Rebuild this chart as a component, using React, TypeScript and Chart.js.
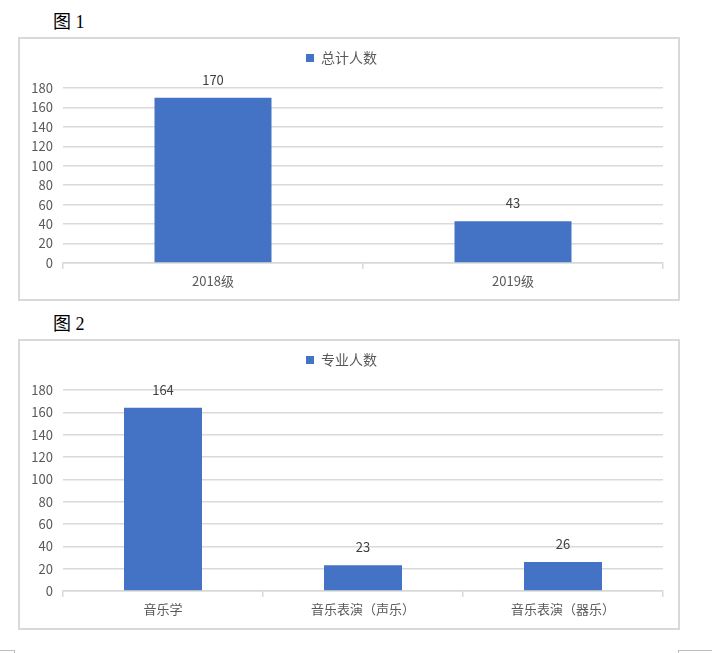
import { useEffect, useRef } from "react"
import Chart from "chart.js/auto"

// 图 1: 各年级总计人数
const gradeLabels = ["2018级", "2019级"]
const gradeCounts = [170, 43]
const gradeSeries = "总计人数"

// 图 2: 各专业人数
const majorLabels = ["音乐学", "音乐表演（声乐）", "音乐表演（器乐）"]
const majorCounts = [164, 23, 26]
const majorSeries = "专业人数"

const yMax = 180
const yStep = 20

const FONT = "'Noto Sans CJK SC', 'Noto Sans', sans-serif"
const BAR_BLUE = "#4472c4"
const GRID = "#d9d9d9"

// fixes the legend block height so the plot area lands where it should
const legendHeight = {
  id: "legendHeight",
  beforeInit(chart: any) {
    const legend = chart.legend
    if (!legend) return
    const fit = legend.fit
    legend.fit = function () {
      fit.call(this)
      this.height = 49
    }
  },
}

// value labels above each bar
const barValueLabels = {
  id: "barValueLabels",
  afterDatasetsDraw(chart: any) {
    const { ctx } = chart
    const meta = chart.getDatasetMeta(0)
    const values = chart.data.datasets[0].data
    ctx.save()
    ctx.font = `13px ${FONT}`
    ctx.fillStyle = "#404040"
    ctx.textAlign = "center"
    ctx.textBaseline = "middle"
    meta.data.forEach((bar: any, i: number) => {
      ctx.fillText(String(values[i]), bar.x, bar.y - 18)
    })
    ctx.restore()
  },
}

interface BarBoxProps {
  title: string
  top: number
  height: number
  labels: string[]
  values: number[]
  series: string
  xAxisHeight: number
}

function BarBox({ title, top, height, labels, values, series, xAxisHeight }: BarBoxProps) {
  const chartRef = useRef<HTMLCanvasElement>(null)
  const chartInstance = useRef<Chart | null>(null)

  useEffect(() => {
    if (!chartRef.current) return
    if (chartInstance.current) chartInstance.current.destroy()

    chartInstance.current = new Chart(chartRef.current, {
      type: "bar",
      data: {
        labels,
        datasets: [
          {
            label: series,
            data: values,
            backgroundColor: BAR_BLUE,
            borderWidth: 0,
            categoryPercentage: 1,
            barPercentage: 0.39,
          },
        ],
      },
      options: {
        animation: false,
        responsive: true,
        maintainAspectRatio: false,
        layout: { padding: { top: 0, right: 15, bottom: 0, left: 0 } },
        plugins: {
          tooltip: { enabled: false },
          legend: {
            position: "top",
            labels: {
              boxWidth: 8,
              boxHeight: 8,
              padding: 12,
              color: "#595959",
              font: { family: FONT, size: 14 },
            },
          },
        },
        scales: {
          x: {
            border: { color: GRID, width: 1.5 },
            grid: {
              offset: true,
              drawOnChartArea: false,
              drawTicks: true,
              tickLength: 6,
              color: GRID,
              lineWidth: 1.5,
            },
            ticks: {
              padding: 4,
              color: "#595959",
              font: { family: FONT, size: 13 },
              maxRotation: 0,
            },
            afterFit: (scale: any) => {
              scale.height = xAxisHeight
            },
          },
          y: {
            min: 0,
            max: yMax,
            border: { display: false },
            grid: { color: GRID, lineWidth: 1.5, drawTicks: false },
            ticks: {
              stepSize: yStep,
              padding: 10,
              color: "#595959",
              font: { family: FONT, size: 13 },
            },
            afterFit: (scale: any) => {
              scale.width = 43
            },
          },
        },
      },
      plugins: [legendHeight, barValueLabels],
    })

    return () => {
      if (chartInstance.current) {
        chartInstance.current.destroy()
        chartInstance.current = null
      }
    }
  }, [])

  return (
    <>
      <div
        style={{
          position: "absolute",
          left: 53,
          top: top - 24,
          fontFamily: "'Liberation Serif', 'Noto Sans CJK SC', serif",
          fontSize: 18,
          lineHeight: "18px",
          color: "#000",
        }}
      >
        {title}
      </div>
      <div
        style={{
          position: "absolute",
          left: 18,
          top,
          width: 662,
          height,
          boxSizing: "border-box",
          border: `2px solid ${GRID}`,
          background: "#fff",
        }}
      >
        <div style={{ position: "relative", width: 658, height: height - 4 }}>
          <canvas ref={chartRef}></canvas>
        </div>
      </div>
    </>
  )
}

export default function App() {
  const mark = "#bfbfbf"
  return (
    <div
      style={{
        position: "absolute",
        left: 0,
        top: 0,
        width: 712,
        height: 653,
        background: "#fff",
        overflow: "hidden",
      }}
    >
      <BarBox
        title="图 1"
        top={37}
        height={264}
        labels={gradeLabels}
        values={gradeCounts}
        series={gradeSeries}
        xAxisHeight={36}
      />
      <BarBox
        title="图 2"
        top={339}
        height={291}
        labels={majorLabels}
        values={majorCounts}
        series={majorSeries}
        xAxisHeight={37}
      />
      {/* page corner marks */}
      <div style={{ position: "absolute", left: 0, top: 650, width: 14, borderTop: `1px solid ${mark}` }} />
      <div style={{ position: "absolute", left: 14, top: 650, height: 4, borderLeft: `1px solid ${mark}` }} />
      <div style={{ position: "absolute", left: 678, top: 650, width: 34, borderTop: `1px solid ${mark}` }} />
      <div style={{ position: "absolute", left: 678, top: 650, height: 4, borderLeft: `1px solid ${mark}` }} />
    </div>
  )
}
